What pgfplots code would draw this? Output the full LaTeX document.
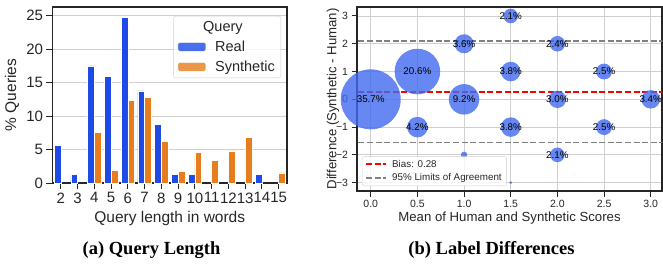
\documentclass[border=0pt]{standalone}
\usepackage{fontspec}
\setmainfont{Liberation Sans}
\newfontfamily\capfont{Liberation Serif}
\usepackage{pgfplots}
\pgfplotsset{compat=1.18}
\definecolor{realblue}{RGB}{30,75,230}
\definecolor{synorange}{RGB}{232,125,30}
\definecolor{bub}{RGB}{65,105,240}
\definecolor{axdark}{RGB}{38,38,38}
\definecolor{gridc}{RGB}{208,208,208}
\definecolor{loagray}{RGB}{128,128,128}
\definecolor{biasred}{RGB}{255,0,0}

\pgfplotstableread{
x y
0 5.6
1 1.25
2 17.5
3 15.9
4 24.75
5 13.75
6 8.75
7 1.25
8 1.25
12 1.25
}\realdata
\pgfplotstableread{
x y
2 7.6
3 1.85
4 12.4
5 12.8
6 6.2
7 1.7
8 4.6
9 3.4
10 4.8
11 6.8
13 1.5
}\syndata
\pgfplotstableread{
x y p
0 0 35.7
0.5 1 20.6
0.5 -1 4.2
1 2 3.6
1 0 9.2
1 -2 0.43
1.5 3 2.1
1.5 1 3.8
1.5 -1 3.8
1.5 -3 0.09
2 2 2.4
2 0 3.0
2 -2 2.1
2.5 1 2.5
2.5 -1 2.5
3 0 3.4
}\bubdata
\pgfplotstableread{
x y lab
0 0 35.7
0.5 1 20.6
0.5 -1 4.2
1 2 3.6
1 0 9.2
1.5 3 2.1
1.5 1 3.8
1.5 -1 3.8
2 2 2.4
2 0 3.0
2 -2 2.1
2.5 1 2.5
2.5 -1 2.5
3 0 3.4
}\labdata

\begin{document}
\begin{tikzpicture}
\useasboundingbox (0pt,0pt) rectangle (663pt,263pt);

% ---------- (a) ----------
\begin{axis}[
  at={(52.5pt,80pt)}, anchor=south west, scale only axis,
  width=234.5pt, height=176pt,
  xmin=-0.5, xmax=13.5, ymin=0, ymax=26.3,
  xtick={0,...,13}, xticklabels={2,3,4,5,6,7,8,9,10,11,12,13,14,15},
  ytick={0,5,...,25},
  axis line style={axdark, line width=1.2pt},
  tick style={axdark, line width=1pt},
  major tick length=6pt, xtick align=outside, ytick align=outside,
  xtick pos=bottom, ytick pos=left,
  ymajorgrids, grid style={gridc, line width=0.8pt},
  tick label style={font=\fontsize{15}{15}\selectfont, text=axdark},
  /pgf/number format/assume math mode=true,
  xlabel={Query length in words}, ylabel={\% Queries},
  xlabel style={at={(axis description cs:0.5,-0.199)}, anchor=center, font=\fontsize{15.5}{16}\selectfont, text=axdark},
  ylabel style={at={(axis description cs:-0.1727,0.5)}, anchor=center, font=\fontsize{15.5}{16}\selectfont, text=axdark},
  legend style={at={(rel axis cs:1,1)}, anchor=north east, xshift=-6pt, yshift=-9pt,
    draw=gridc, rounded corners=2pt, fill=white, fill opacity=0.8, text opacity=1,
    font=\fontsize{14.5}{15}\selectfont, text=axdark, inner xsep=4pt, inner ysep=3pt,
    row sep=4pt, cells={anchor=west},
    /tikz/every odd column/.append style={column sep=7pt}},
  legend image code/.code={\fill[#1] (0pt,-4.5pt) rectangle (28pt,4.5pt);},
]
\addlegendimage{empty legend}
\addlegendentry{\hspace*{-12pt}Query}
\addplot[ybar, bar width=0.4, bar shift=-0.2, fill=realblue, draw=white, line width=0.6pt]
  table[x=x,y=y] {\realdata};
\addlegendentry{Real}
\addplot[ybar, bar width=0.4, bar shift=0.2, fill=synorange, draw=white, line width=0.6pt]
  table[x=x,y=y] {\syndata};
\addlegendentry{Synthetic}
\end{axis}

% ---------- (b) ----------
\begin{axis}[
  at={(357pt,72pt)}, anchor=south west, scale only axis,
  width=305pt, height=184pt,
  xmin=-0.147, xmax=3.121, ymin=-3.30, ymax=3.324,
  xtick={0,0.5,1,1.5,2,2.5,3},
  xticklabels={0.0,0.5,1.0,1.5,2.0,2.5,3.0},
  ytick={-3,-2,-1,0,1,2,3},
  yticklabels={−3,−2,−1,0,1,2,3},
  axis line style={axdark, line width=1.2pt},
  tick style={axdark, line width=1pt},
  major tick length=5.5pt, xtick align=outside, ytick align=outside,
  xtick pos=bottom, ytick pos=left,
  grid=major, grid style={gridc, line width=0.8pt},
  tick label style={font=\fontsize{10.5}{11}\selectfont, text=axdark},
  xlabel={Mean of Human and Synthetic Scores},
  ylabel={Difference (Synthetic - Human)},
  xlabel style={at={(axis description cs:0.5,-0.1467)}, anchor=center, font=\fontsize{13.2}{14}\selectfont, text=axdark},
  ylabel style={at={(axis description cs:-0.0787,0.5)}, anchor=center, font=\fontsize{13.2}{14}\selectfont, text=axdark},
  legend style={at={(rel axis cs:0,0)}, anchor=south west, xshift=5pt, yshift=5pt,
    draw=gridc, rounded corners=2pt, fill=white, fill opacity=0.8, text opacity=1,
    font=\fontsize{9.8}{10}\selectfont, text=axdark, inner xsep=3pt, inner ysep=1.5pt,
    row sep=1pt, cells={anchor=west},
    /tikz/every odd column/.append style={column sep=3pt}},
  legend image code/.code={\draw[#1] (0pt,0pt) -- (20pt,0pt);},
]
\addplot[scatter, only marks, mark=*, forget plot,
  scatter/use mapped color={draw=bub, fill=bub, draw opacity=0, fill opacity=0.8},
  visualization depends on={5.02*sqrt(\thisrow{p}) \as \rad},
  scatter/@pre marker code/.append style={/tikz/mark size=\rad},
] table[x=x,y=y] {\bubdata};

\addplot[color=biasred, draw=biasred, mark=none, line width=2pt, dash pattern=on 6pt off 2.6pt]
  coordinates {(-0.5,0.28) (3.5,0.28)};
\addlegendentry{Bias: 0.28}
\addplot[color=loagray, draw=loagray, mark=none, line width=1.7pt, dash pattern=on 6pt off 2.6pt]
  coordinates {(-0.5,2.11) (3.5,2.11)};
\addlegendentry{95\% Limits of Agreement}
\addplot[color=loagray, draw=loagray, mark=none, line width=1.7pt, dash pattern=on 6pt off 2.6pt, forget plot]
  coordinates {(-0.5,-1.55) (3.5,-1.55)};

\addplot[only marks, mark=none, forget plot, point meta=explicit symbolic,
  nodes near coords={\pgfplotspointmeta\%},
  every node near coord/.append style={anchor=center, font=\fontsize{9.8}{10}\selectfont, text=black, inner sep=0pt}]
  table[x=x,y=y,meta=lab] {\labdata};
\end{axis}

\node[font=\capfont\bfseries\fontsize{18.5}{19}\selectfont, text=black, anchor=base] at (151.5pt,8.5pt) {(a) Query Length};
\node[font=\capfont\bfseries\fontsize{18.5}{19}\selectfont, text=black, anchor=base] at (491.5pt,8.5pt) {(b) Label Differences};
\end{tikzpicture}
\end{document}
